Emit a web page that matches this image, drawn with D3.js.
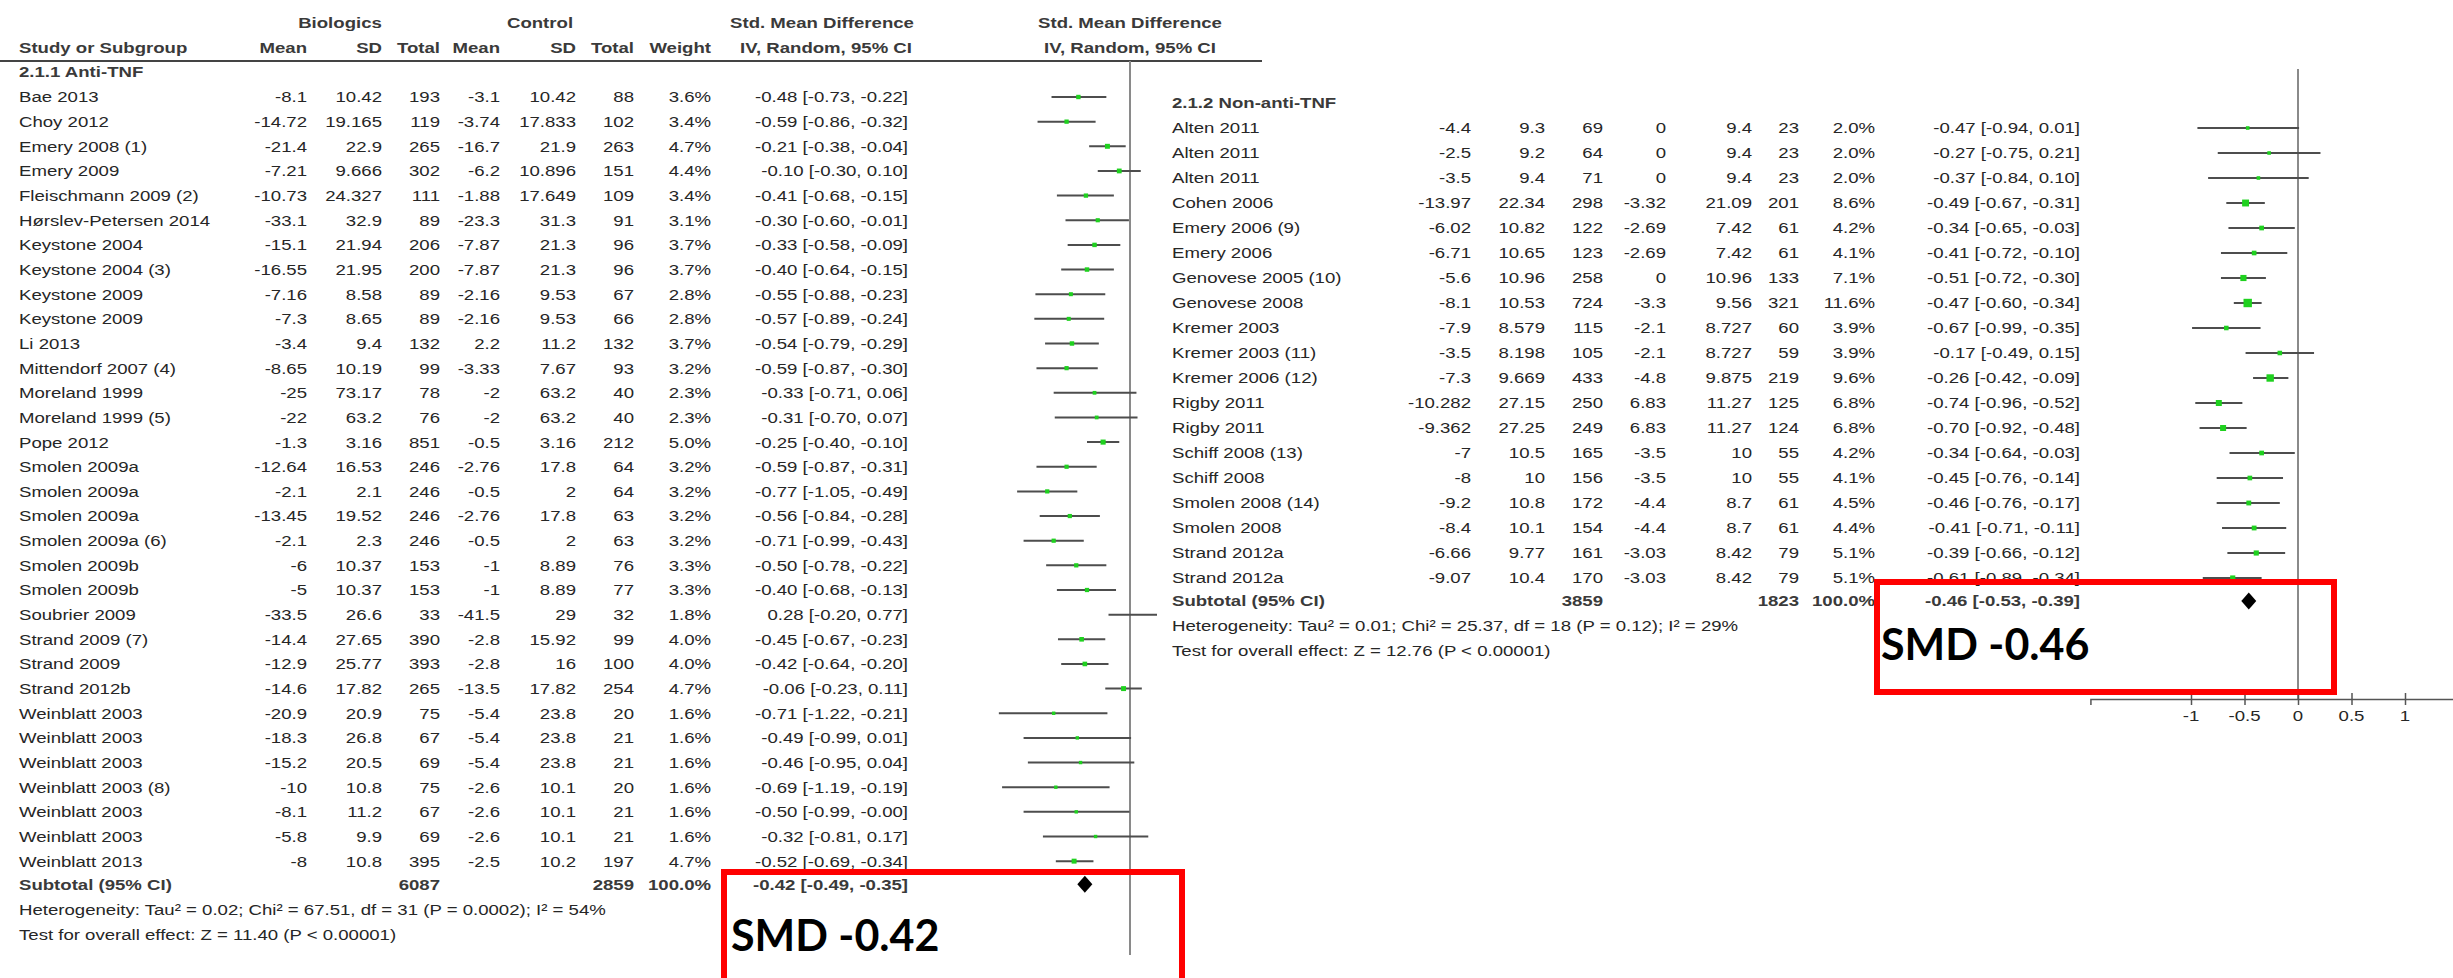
<!DOCTYPE html>
<html>
<head>
<meta charset="utf-8">
<title>Forest plot - Biologics vs Control</title>
<style>
  html, body { margin: 0; padding: 0; background: #fff; }
  svg { display: block; }
</style>
</head>
<body>
<svg width="2453" height="978"></svg>
<script src="https://cdn.jsdelivr.net/npm/d3@7"></script>
<script>
// ---- 2.1.1 Anti-TNF ----
const antiStudies = ["Bae 2013", "Choy 2012", "Emery 2008 (1)", "Emery 2009", "Fleischmann 2009 (2)",
  "Hørslev-Petersen 2014", "Keystone 2004", "Keystone 2004 (3)", "Keystone 2009", "Keystone 2009",
  "Li 2013", "Mittendorf 2007 (4)", "Moreland 1999", "Moreland 1999 (5)", "Pope 2012",
  "Smolen 2009a", "Smolen 2009a", "Smolen 2009a", "Smolen 2009a (6)", "Smolen 2009b", "Smolen 2009b",
  "Soubrier 2009", "Strand 2009 (7)", "Strand 2009", "Strand 2012b", "Weinblatt 2003", "Weinblatt 2003",
  "Weinblatt 2003", "Weinblatt 2003 (8)", "Weinblatt 2003", "Weinblatt 2003", "Weinblatt 2013"]
const antiBioMean = [-8.1, -14.72, -21.4, -7.21, -10.73, -33.1, -15.1, -16.55, -7.16, -7.3, -3.4, -8.65, -25, -22, -1.3,
  -12.64, -2.1, -13.45, -2.1, -6, -5, -33.5, -14.4, -12.9, -14.6, -20.9, -18.3, -15.2, -10, -8.1, -5.8, -8]
const antiBioSD = [10.42, 19.165, 22.9, 9.666, 24.327, 32.9, 21.94, 21.95, 8.58, 8.65, 9.4, 10.19, 73.17, 63.2, 3.16,
  16.53, 2.1, 19.52, 2.3, 10.37, 10.37, 26.6, 27.65, 25.77, 17.82, 20.9, 26.8, 20.5, 10.8, 11.2, 9.9, 10.8]
const antiBioN = [193, 119, 265, 302, 111, 89, 206, 200, 89, 89, 132, 99, 78, 76, 851,
  246, 246, 246, 246, 153, 153, 33, 390, 393, 265, 75, 67, 69, 75, 67, 69, 395]
const antiCtlMean = [-3.1, -3.74, -16.7, -6.2, -1.88, -23.3, -7.87, -7.87, -2.16, -2.16, 2.2, -3.33, -2, -2, -0.5,
  -2.76, -0.5, -2.76, -0.5, -1, -1, -41.5, -2.8, -2.8, -13.5, -5.4, -5.4, -5.4, -2.6, -2.6, -2.6, -2.5]
const antiCtlSD = [10.42, 17.833, 21.9, 10.896, 17.649, 31.3, 21.3, 21.3, 9.53, 9.53, 11.2, 7.67, 63.2, 63.2, 3.16,
  17.8, 2, 17.8, 2, 8.89, 8.89, 29, 15.92, 16, 17.82, 23.8, 23.8, 23.8, 10.1, 10.1, 10.1, 10.2]
const antiCtlN = [88, 102, 263, 151, 109, 91, 96, 96, 67, 66, 132, 93, 40, 40, 212,
  64, 64, 63, 63, 76, 77, 32, 99, 100, 254, 20, 21, 21, 20, 21, 21, 197]
const antiWeight = [3.6, 3.4, 4.7, 4.4, 3.4, 3.1, 3.7, 3.7, 2.8, 2.8, 3.7, 3.2, 2.3, 2.3, 5.0,
  3.2, 3.2, 3.2, 3.2, 3.3, 3.3, 1.8, 4.0, 4.0, 4.7, 1.6, 1.6, 1.6, 1.6, 1.6, 1.6, 4.7]
const antiSMD = [-0.48, -0.59, -0.21, -0.10, -0.41, -0.30, -0.33, -0.40, -0.55, -0.57, -0.54, -0.59, -0.33, -0.31, -0.25,
  -0.59, -0.77, -0.56, -0.71, -0.50, -0.40, 0.28, -0.45, -0.42, -0.06, -0.71, -0.49, -0.46, -0.69, -0.50, -0.32, -0.52]
const antiLow = [-0.73, -0.86, -0.38, -0.30, -0.68, -0.60, -0.58, -0.64, -0.88, -0.89, -0.79, -0.87, -0.71, -0.70, -0.40,
  -0.87, -1.05, -0.84, -0.99, -0.78, -0.68, -0.20, -0.67, -0.64, -0.23, -1.22, -0.99, -0.95, -1.19, -0.99, -0.81, -0.69]
const antiHigh = [-0.22, -0.32, -0.04, 0.10, -0.15, -0.01, -0.09, -0.15, -0.23, -0.24, -0.29, -0.30, 0.06, 0.07, -0.10,
  -0.31, -0.49, -0.28, -0.43, -0.22, -0.13, 0.77, -0.23, -0.20, 0.11, -0.21, 0.01, 0.04, -0.19, -0.004, 0.17, -0.34]
const antiTotal = { bio: 6087, ctl: 2859, smd: -0.42, low: -0.49, high: -0.35 }
const antiHet = "Heterogeneity: Tau² = 0.02; Chi² = 67.51, df = 31 (P = 0.0002); I² = 54%"
const antiTest = "Test for overall effect: Z = 11.40 (P < 0.00001)"

// ---- 2.1.2 Non-anti-TNF ----
const nonStudies = ["Alten 2011", "Alten 2011", "Alten 2011", "Cohen 2006", "Emery 2006 (9)", "Emery 2006",
  "Genovese 2005 (10)", "Genovese 2008", "Kremer 2003", "Kremer 2003 (11)", "Kremer 2006 (12)", "Rigby 2011",
  "Rigby 2011", "Schiff 2008 (13)", "Schiff 2008", "Smolen 2008 (14)", "Smolen 2008", "Strand 2012a", "Strand 2012a"]
const nonBioMean = [-4.4, -2.5, -3.5, -13.97, -6.02, -6.71, -5.6, -8.1, -7.9, -3.5, -7.3, -10.282, -9.362, -7, -8, -9.2, -8.4, -6.66, -9.07]
const nonBioSD = [9.3, 9.2, 9.4, 22.34, 10.82, 10.65, 10.96, 10.53, 8.579, 8.198, 9.669, 27.15, 27.25, 10.5, 10, 10.8, 10.1, 9.77, 10.4]
const nonBioN = [69, 64, 71, 298, 122, 123, 258, 724, 115, 105, 433, 250, 249, 165, 156, 172, 154, 161, 170]
const nonCtlMean = [0, 0, 0, -3.32, -2.69, -2.69, 0, -3.3, -2.1, -2.1, -4.8, 6.83, 6.83, -3.5, -3.5, -4.4, -4.4, -3.03, -3.03]
const nonCtlSD = [9.4, 9.4, 9.4, 21.09, 7.42, 7.42, 10.96, 9.56, 8.727, 8.727, 9.875, 11.27, 11.27, 10, 10, 8.7, 8.7, 8.42, 8.42]
const nonCtlN = [23, 23, 23, 201, 61, 61, 133, 321, 60, 59, 219, 125, 124, 55, 55, 61, 61, 79, 79]
const nonWeight = [2.0, 2.0, 2.0, 8.6, 4.2, 4.1, 7.1, 11.6, 3.9, 3.9, 9.6, 6.8, 6.8, 4.2, 4.1, 4.5, 4.4, 5.1, 5.1]
const nonSMD = [-0.47, -0.27, -0.37, -0.49, -0.34, -0.41, -0.51, -0.47, -0.67, -0.17, -0.26, -0.74, -0.70, -0.34, -0.45, -0.46, -0.41, -0.39, -0.61]
const nonLow = [-0.94, -0.75, -0.84, -0.67, -0.65, -0.72, -0.72, -0.60, -0.99, -0.49, -0.42, -0.96, -0.92, -0.64, -0.76, -0.76, -0.71, -0.66, -0.89]
const nonHigh = [0.01, 0.21, 0.10, -0.31, -0.03, -0.10, -0.30, -0.34, -0.35, 0.15, -0.09, -0.52, -0.48, -0.03, -0.14, -0.17, -0.11, -0.12, -0.34]
const nonTotal = { bio: 3859, ctl: 1823, smd: -0.46, low: -0.53, high: -0.39 }
const nonHet = "Heterogeneity: Tau² = 0.01; Chi² = 25.37, df = 18 (P = 0.12); I² = 29%"
const nonTest = "Test for overall effect: Z = 12.76 (P < 0.00001)"

const axisTicks = [-1, -0.5, 0, 0.5, 1]

const FONT = "'Liberation Sans', Arial, sans-serif"
const FS = 15.5, SX = 1.2
const TXT = "#262626", BOLD = "#3a3a3a"

const svg = d3.select("svg")

// text with slight horizontal stretch, like the original export
function txt(g, x, y, s, anchor, bold) {
  return g.append("text")
    .attr("transform", `translate(${x},${y}) scale(${SX},1)`)
    .attr("dy", "0.35em")
    .attr("text-anchor", anchor || "start")
    .attr("font-family", FONT).attr("font-size", FS)
    .attr("font-weight", bold ? "bold" : "normal")
    .attr("fill", bold ? BOLD : TXT)
    .text(s)
}

const ci = (m, l, h) => `${m.toFixed(2)} [${l.toFixed(2)}, ${h.toFixed(2)}]`

function drawPanel(g, c, d) {
  let n = d.studies.length
  let y = d3.scaleLinear().domain([0, n - 1]).range([c.y0, c.y0 + (n - 1) * c.dy])
  let x = d3.scaleLinear().domain([-1, 1]).range([c.zero - c.unit, c.zero + c.unit])
  let ySub = y(n - 1) + 23

  // zero line
  g.append("line").attr("x1", x(0)).attr("x2", x(0)).attr("y1", c.lineTop).attr("y2", c.lineBottom)
    .attr("stroke", "#8a8a8a").attr("stroke-width", 2)

  txt(g, c.colX[0], c.y0 - 25, d.title, "start", true)

  d.studies.forEach((s, i) => {
    let yy = y(i)
    txt(g, c.colX[0], yy, s)
    txt(g, c.colX[1], yy, String(d.bioMean[i]), "end")
    txt(g, c.colX[2], yy, String(d.bioSD[i]), "end")
    txt(g, c.colX[3], yy, String(d.bioN[i]), "end")
    txt(g, c.colX[4], yy, String(d.ctlMean[i]), "end")
    txt(g, c.colX[5], yy, String(d.ctlSD[i]), "end")
    txt(g, c.colX[6], yy, String(d.ctlN[i]), "end")
    txt(g, c.colX[7], yy, d.weight[i].toFixed(1) + "%", "end")
    txt(g, c.colX[8], yy, ci(d.smd[i], d.low[i], d.high[i]), "end")
  })

  // CI lines and boxes
  let plot = g.append("g")
  plot.selectAll("line.ci").data(d.studies).enter().append("line")
    .attr("class", "ci")
    .attr("x1", (s, i) => x(d.low[i])).attr("x2", (s, i) => x(d.high[i]))
    .attr("y1", (s, i) => y(i)).attr("y2", (s, i) => y(i))
    .attr("stroke", "#4d4d4d").attr("stroke-width", 2)
  plot.selectAll("rect.pt").data(d.studies).enter().append("rect")
    .attr("class", "pt")
    .each(function (s, i) {
      let w = 2.6 + 0.5 * d.weight[i]
      d3.select(this).attr("x", x(d.smd[i]) - w / 2).attr("y", y(i) - w / 2)
        .attr("width", w).attr("height", w)
    })
    .attr("fill", "#1fd11f")

  // subtotal
  txt(g, c.colX[0], ySub, "Subtotal (95% CI)", "start", true)
  txt(g, c.colX[3], ySub, String(d.total.bio), "end", true)
  txt(g, c.colX[6], ySub, String(d.total.ctl), "end", true)
  txt(g, c.colX[7], ySub, "100.0%", "end", true)
  txt(g, c.colX[8], ySub, ci(d.total.smd, d.total.low, d.total.high), "end", true)
  let h = 8.5
  g.append("path")
    .attr("d", `M${x(d.total.low)},${ySub} L${x(d.total.smd)},${ySub - h} L${x(d.total.high)},${ySub} L${x(d.total.smd)},${ySub + h} Z`)
    .attr("fill", "#000")

  txt(g, c.colX[0], ySub + 25, d.het)
  txt(g, c.colX[0], ySub + 50, d.test)
  return x
}

// ---------- left panel ----------
const left = svg.append("g")
const leftCols = [19, 307, 382, 440, 500, 576, 634, 711, 908]

txt(left, 340, 23, "Biologics", "middle", true)
txt(left, 540, 23, "Control", "middle", true)
txt(left, 822, 23, "Std. Mean Difference", "middle", true)
txt(left, 1130, 23, "Std. Mean Difference", "middle", true)
txt(left, leftCols[0], 48, "Study or Subgroup", "start", true)
;["Mean", "SD", "Total", "Mean", "SD", "Total", "Weight"].forEach((s, i) => txt(left, leftCols[i + 1], 48, s, "end", true))
txt(left, 826, 48, "IV, Random, 95% CI", "middle", true)
txt(left, 1130, 48, "IV, Random, 95% CI", "middle", true)
left.append("line").attr("x1", 0).attr("x2", 1262).attr("y1", 61).attr("y2", 61)
  .attr("stroke", "#444").attr("stroke-width", 2)

drawPanel(left, { y0: 97, dy: 24.65, zero: 1130, unit: 107.5, lineTop: 61, lineBottom: 955, colX: leftCols }, {
  title: "2.1.1 Anti-TNF", studies: antiStudies, bioMean: antiBioMean, bioSD: antiBioSD, bioN: antiBioN,
  ctlMean: antiCtlMean, ctlSD: antiCtlSD, ctlN: antiCtlN, weight: antiWeight, smd: antiSMD, low: antiLow,
  high: antiHigh, total: antiTotal, het: antiHet, test: antiTest
})

// ---------- right panel (pasted over the left one) ----------
svg.append("rect").attr("x", 1157).attr("y", 64).attr("width", 1300).attr("height", 666).attr("fill", "#fff")
const right = svg.append("g")
const rightCols = [1172, 1471, 1545, 1603, 1666, 1752, 1799, 1875, 2080]
const xr = drawPanel(right, { y0: 128, dy: 25, zero: 2298, unit: 107, lineTop: 69, lineBottom: 699, colX: rightCols }, {
  title: "2.1.2 Non-anti-TNF", studies: nonStudies, bioMean: nonBioMean, bioSD: nonBioSD, bioN: nonBioN,
  ctlMean: nonCtlMean, ctlSD: nonCtlSD, ctlN: nonCtlN, weight: nonWeight, smd: nonSMD, low: nonLow,
  high: nonHigh, total: nonTotal, het: nonHet, test: nonTest
})

// axis
const xAxisScale = xr.copy().domain([-1.94, 1.94]).range([xr(-1.94), xr(1.94)])
const ax = right.append("g").attr("transform", "translate(0,699)")
  .call(d3.axisBottom(xAxisScale).tickValues(axisTicks).tickFormat(d => String(d)).tickSizeOuter(0).tickSize(6))
ax.select(".domain").attr("stroke", "#555").attr("stroke-width", 1.5)
ax.selectAll(".tick line").attr("y1", -6).attr("y2", 6).attr("stroke", "#555").attr("stroke-width", 1.5)
ax.selectAll(".tick text").remove()
axisTicks.forEach(t => txt(right, xr(t), 716, String(t), "middle"))

// ---------- highlight boxes ----------
const boxes = svg.append("g")
boxes.append("rect").attr("x", 724).attr("y", 872).attr("width", 458).attr("height", 130)
  .attr("fill", "none").attr("stroke", "#ff0000").attr("stroke-width", 6)
boxes.append("rect").attr("x", 1877).attr("y", 582).attr("width", 457).attr("height", 110)
  .attr("fill", "none").attr("stroke", "#ff0000").attr("stroke-width", 6)
boxes.append("text").attr("x", 731).attr("y", 951)
  .attr("font-family", "Lato, 'Open Sans', sans-serif").attr("font-weight", 700).attr("font-size", 43)
  .attr("fill", "#000").text("SMD " + antiTotal.smd.toFixed(2))
boxes.append("text").attr("x", 1881).attr("y", 660)
  .attr("font-family", "Lato, 'Open Sans', sans-serif").attr("font-weight", 700).attr("font-size", 43)
  .attr("fill", "#000").text("SMD " + nonTotal.smd.toFixed(2))
</script>
</body>
</html>
